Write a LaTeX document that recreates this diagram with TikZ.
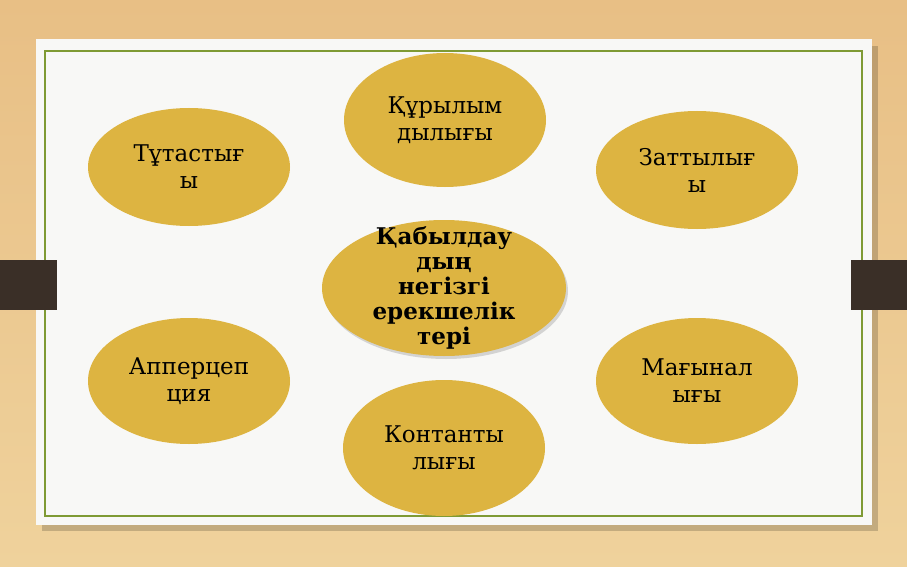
\documentclass[tikz,border=0pt]{standalone}
\usepackage{fontspec}
\setmainfont{DejaVu Serif}
\usetikzlibrary{shapes.geometric,shadows}

\definecolor{woodtop}{HTML}{E8BF85}
\definecolor{woodlow}{HTML}{EFD29C}
\definecolor{frame}{HTML}{7F9A34}
\definecolor{gold}{HTML}{DDB441}
\definecolor{bar}{HTML}{3A2F27}
\definecolor{paper}{HTML}{F8F8F6}

\tikzset{
	trait/.style={ellipse, fill=gold, inner sep=0pt, align=center,
		minimum width=202pt, minimum height=118pt,
		font=\fontsize{23}{27}\selectfont},
	core/.style={trait, inner ysep=-25pt, minimum width=244pt, minimum height=136pt,
		font=\bfseries\fontsize{23}{25}\selectfont,
		drop shadow={shadow xshift=2pt, shadow yshift=-3pt, opacity=0.3}},
}

\begin{document}
\begin{tikzpicture}[x=1pt, y=-1pt]
	\useasboundingbox (0,0) rectangle (907,567);

	% Wooden background
	\shade[top color=woodtop, bottom color=woodlow] (0,0) rectangle (907,567);

	% Sheet with its shadow
	\fill[black, opacity=0.18] (42,46) rectangle (878,531);
	\fill[paper] (36,39) rectangle (872,525);
	\draw[frame, line width=2.6pt] (45,51) rectangle (862,516);

	% Side bars
	\fill[bar] (0,260) rectangle (57,310);
	\fill[bar] (851,260) rectangle (907,310);

	% Outer ellipses
	\node[trait] (whole) at (189,167) {Тұтастығ\\ы};
	\node[trait, minimum height=134pt] (struct) at (445,120) {Құрылым\\дылығы};
	\node[trait] (object) at (697,170) {Заттылығ\\ы};
	\node[trait, minimum height=126pt] (apper) at (189,381) {Апперцеп\\ция};
	\node[trait, minimum height=136pt] (const) at (444,448) {Контанты\\лығы};
	\node[trait, minimum height=126pt] (meaning) at (697,381) {Мағынал\\ығы};

	% Centre
	\node[core] (centre) at (444,288) {Қабылдау\\дың\\негізгі\\ерекшелік\\тері};

\end{tikzpicture}
\end{document}
